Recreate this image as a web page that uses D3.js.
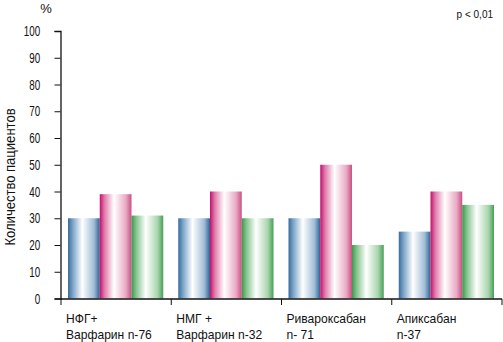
<!DOCTYPE html>
<html><head><meta charset="utf-8">
<script src="https://cdn.jsdelivr.net/npm/d3@7"></script>
<style>
body{margin:0;background:#fff;}
text{font-family:"Liberation Sans Narrow","Liberation Sans",Arial,sans-serif;fill:#111;}
</style></head>
<body><svg id="c" width="503" height="342"></svg>
<script>
const categories = [["НФГ+","Варфарин n-76"],["НМГ +","Варфарин n-32"],["Ривароксабан","n- 71"],["Апиксабан","n-37"]];
const seriesNames = ["blue","pink","green"];
const blueValues = [30,30,30,25];
const pinkValues = [39,40,50,40];
const greenValues = [31,30,20,35];
const yTicks = [0,10,20,30,40,50,60,70,80,90,100];

const svg = d3.select("#c");
const x0 = 61, x1 = 502, yTop = 31, yBot = 298.5;
const x = d3.scaleBand().domain(d3.range(categories.length)).range([x0,x1]).paddingInner(0).paddingOuter(0);
const y = d3.scaleLinear().domain([0,100]).range([yBot,yTop]);
const xs = d3.scaleBand().domain(seriesNames).range([7, x.bandwidth()-8]);

const pal = {
  blue:["#3a6c9a","#7ba4c8","#ffffff","#9fbcd6","#2f6393"],
  pink:["#c20f6c","#e07aaa","#ffffff","#e9aac4","#c94f83"],
  green:["#3a984a","#86c48e","#ffffff","#a9d5ad","#469f55"]
};
const defs = svg.append("defs");
seriesNames.forEach(s=>{
  const g = defs.append("linearGradient").attr("id","g_"+s).attr("x1","0").attr("x2","1").attr("y1","0").attr("y2","0");
  [0,0.15,0.45,0.82,1].forEach((o,i)=>g.append("stop").attr("offset",o).attr("stop-color",pal[s][i]));
});

const vals = {blue:blueValues,pink:pinkValues,green:greenValues};
categories.forEach((c,i)=>{
  seriesNames.forEach(s=>{
    svg.append("rect")
      .attr("x", x(i)+xs(s)).attr("width", xs.bandwidth())
      .attr("y", y(vals[s][i])).attr("height", y(0)-y(vals[s][i]))
      .attr("fill","url(#g_"+s+")");
  });
});

// y axis
const ya = svg.append("g").attr("transform",`translate(${x0-0.5},0)`)
  .call(d3.axisLeft(y).tickValues(yTicks).tickSize(6).tickPadding(24));
ya.select(".domain").attr("stroke","#111").attr("stroke-width",1.3);
ya.selectAll(".tick line").attr("stroke","#111");
ya.selectAll(".tick text").style("font-size","14.5px").attr("fill","#111").attr("transform","scale(0.68,1)");

// x axis
const xa = svg.append("g").attr("transform",`translate(0,${yBot+0.5})`);
xa.append("line").attr("x1",x0-0.5).attr("x2",x1).attr("stroke","#111").attr("stroke-width",1.3);
const xt = [...d3.range(categories.length).map(i=>x(i)), x1];
xt.forEach(t=>xa.append("line").attr("x1",t).attr("x2",t).attr("y1",0).attr("y2",6).attr("stroke","#111"));
const sx = 0.93;
categories.forEach((c,i)=>{
  const t = xa.append("text").attr("transform",`scale(${sx},1)`).attr("y",24).style("font-size","13px");
  t.append("tspan").attr("x",(x(i)+5)/sx).text(c[0]);
  t.append("tspan").attr("x",(x(i)+5)/sx).attr("dy",16).text(c[1]);
});

svg.append("text").attr("x",46).attr("y",13).attr("text-anchor","middle").style("font-size","13px").text("%");
svg.append("text").attr("transform","translate(15,177) rotate(-90) scale(0.9,1)").attr("text-anchor","middle").style("font-size","14.5px").text("Количество пациентов");
svg.append("text").attr("x",493).attr("y",18).attr("text-anchor","end").style("font-family","'Liberation Sans',Arial,sans-serif").style("font-size","10px").text("p < 0,01");
</script></body></html>
